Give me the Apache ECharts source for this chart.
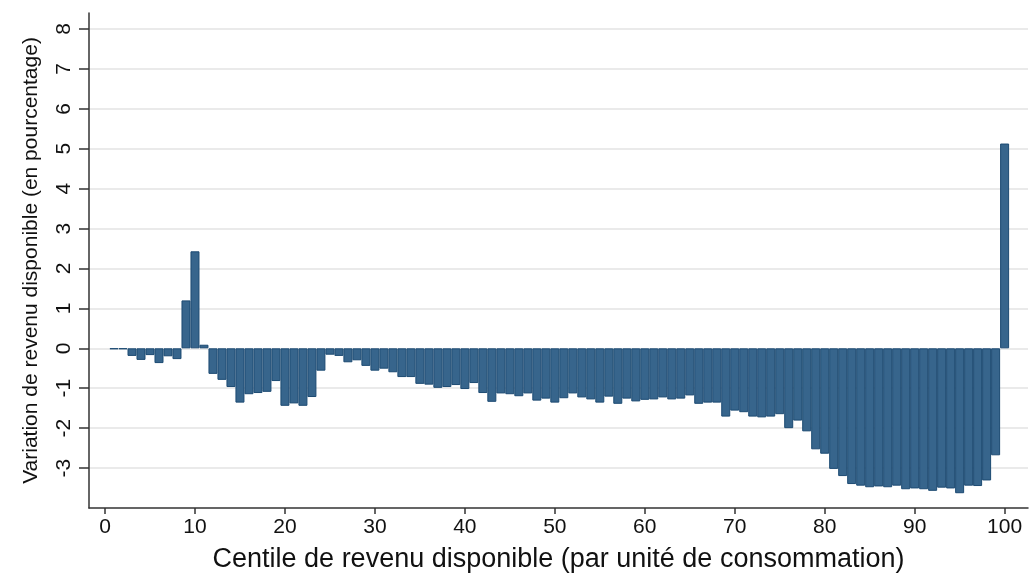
<!DOCTYPE html>
<html><head><meta charset="utf-8">
<script src="https://cdn.jsdelivr.net/npm/echarts@6/dist/echarts.min.js"></script>
<style>html,body{margin:0;padding:0;background:#fff}#c{width:1030px;height:578px}</style>
</head><body><div id="c"></div>
<script>
const centiles = [1,2,3,4,5,6,7,8,9,10,11,12,13,14,15,16,17,18,19,20,
21,22,23,24,25,26,27,28,29,30,31,32,33,34,35,36,37,38,39,40,
41,42,43,44,45,46,47,48,49,50,51,52,53,54,55,56,57,58,59,60,
61,62,63,64,65,66,67,68,69,70,71,72,73,74,75,76,77,78,79,80,
81,82,83,84,85,86,87,88,89,90,91,92,93,94,95,96,97,98,99,100];
const variation = [
-0.02,-0.02,-0.19,-0.29,-0.17,-0.37,-0.20,-0.27,1.20,2.43,
0.09,-0.64,-0.79,-0.97,-1.36,-1.15,-1.12,-1.09,-0.82,-1.44,
-1.38,-1.44,-1.22,-0.56,-0.16,-0.19,-0.35,-0.30,-0.44,-0.56,
-0.51,-0.60,-0.72,-0.72,-0.89,-0.91,-0.99,-0.97,-0.92,-1.02,
-0.87,-1.12,-1.34,-1.13,-1.15,-1.20,-1.13,-1.31,-1.26,-1.36,
-1.25,-1.13,-1.23,-1.28,-1.36,-1.21,-1.39,-1.26,-1.33,-1.29,
-1.28,-1.23,-1.28,-1.26,-1.18,-1.39,-1.36,-1.36,-1.71,-1.56,
-1.60,-1.71,-1.73,-1.71,-1.65,-2.00,-1.81,-2.08,-2.53,-2.64,
-3.02,-3.20,-3.40,-3.44,-3.48,-3.46,-3.48,-3.44,-3.53,-3.51,
-3.53,-3.57,-3.49,-3.51,-3.63,-3.44,-3.45,-3.31,-2.68,5.13];
const xTicks = [0,10,20,30,40,50,60,70,80,90,100];
const yTicks = [-3,-2,-1,0,1,2,3,4,5,6,7,8];
const xTitle = 'Centile de revenu disponible (par unité de consommation)';
const yTitle = 'Variation de revenu disponible (en pourcentage)';

const chart = echarts.init(document.getElementById('c'), null, {renderer:'canvas'});
const font = 'Liberation Sans, Arial, sans-serif';
chart.setOption({
  animation:false,
  backgroundColor:'#ffffff',
  grid:{left:89, right:2, top:13, bottom:62, containLabel:false},
  xAxis:{
    type:'value', min:-1.78, max:102.6,
    axisLine:{show:true, onZero:false, lineStyle:{color:'#333', width:1.5}},
    axisTick:{show:true, customValues:xTicks, length:6, lineStyle:{color:'#333', width:1.5}},
    axisLabel:{customValues:xTicks, color:'#111', fontSize:21, fontFamily:font, margin:9},
    splitLine:{show:false},
    name:xTitle, nameLocation:'middle', nameGap:38,
    nameTextStyle:{color:'#111', fontSize:27, fontFamily:font}
  },
  yAxis:{
    type:'value', min:-4, max:8.4, interval:1,
    axisLine:{show:true, onZero:false, lineStyle:{color:'#333', width:1.5}},
    axisTick:{show:true, customValues:yTicks, length:10, lineStyle:{color:'#333', width:1.5}},
    axisLabel:{customValues:yTicks, rotate:90, color:'#111', fontSize:21, fontFamily:font, margin:14},
    splitLine:{show:true, lineStyle:{color:'#e3e3e3', width:1.5}},
    name:yTitle, nameLocation:'middle', nameGap:47, nameRotate:90,
    nameTextStyle:{color:'#111', fontSize:21, fontFamily:font}
  },
  series:[{
    type:'bar',
    data:centiles.map((c,i)=>[c, variation[i]]),
    barWidth:9,
    itemStyle:{color:'#37658c', borderColor:'#1c4a72', borderWidth:1}
  }]
});
</script></body></html>
